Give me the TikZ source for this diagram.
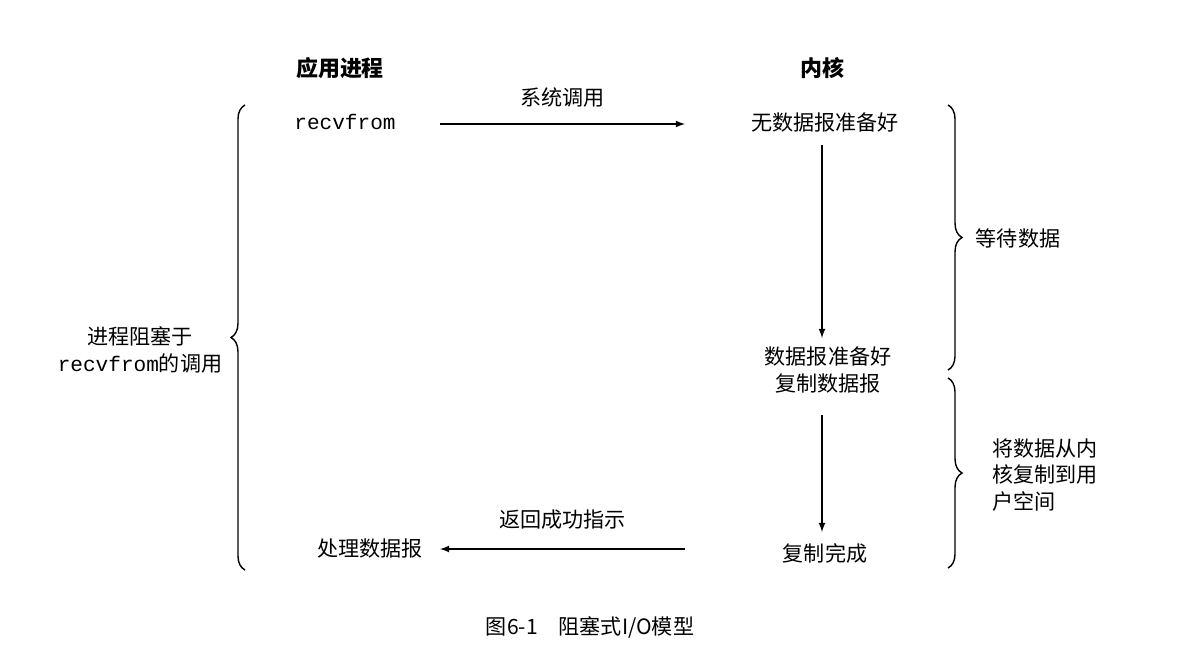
\documentclass[tikz,border=0pt]{standalone}
\usepackage{fontspec}
\setmonofont{Liberation Mono}
\newfontfamily\cjk{Noto Sans CJK SC}
\usetikzlibrary{positioning,decorations.pathreplacing}
\tikzset{
  txt/.style={font=\cjk\fontsize{12}{15}\selectfont,inner sep=1pt,align=center},
  head/.style={txt,font=\cjk\bfseries\fontsize{12.5}{15}\selectfont},
  flow/.style={-latex,thick},
  brc/.style={decorate,decoration={brace,amplitude=8pt},thick}
}
\begin{document}
\begin{tikzpicture}[x=0.02cm,y=-0.02cm]
  \useasboundingbox[fill=white] (0,0) rectangle (1200,669);
  % headings
  \node[head] (app) at (340,68) {应用进程};
  \node[head] (kern) at (822,68) {内核};
  % process side
  \node[txt,font=\ttfamily\fontsize{12}{15}\selectfont] (recv) at (345,122) {recvfrom};
  \node[txt] (done) at (370,549) {处理数据报};
  % kernel side
  \node[txt] (nodata) at (825,122) {无数据报准备好};
  \node[txt] (ready) at (828,370) {数据报准备好\\复制数据报};
  \node[txt] (copied) at (825,553) {复制完成};
  % arrows
  \coordinate (c1) at (440,124);
  \coordinate (c2) at (685,124);
  \draw[flow] (c1) -- node[txt,above=8pt] {系统调用} (c2);
  \draw[flow] (822,145) -- (822,338);
  \draw[flow] (822,415) -- (822,532);
  \coordinate (c3) at (685,549);
  \coordinate (c4) at (440,549);
  \draw[flow] (c3) -- node[txt,above=10pt] {返回成功指示} (c4);
  % braces
  \draw[brc] (245,570) -- (245,105);
  \node[txt] (block) at (140,350) {进程阻塞于\\{\ttfamily recvfrom}的调用};
  \draw[brc] (948,105) -- (948,370);
  \node[txt] (wait) at (1018,238) {等待数据};
  \draw[brc] (948,378) -- (948,568);
  \node[txt,align=left] (copy) at (1045,475) {将数据从内\\核复制到用\\户空间};
  % caption
  \node[txt] (cap) at (590,627) {图6-1\quad 阻塞式I/O模型};
\end{tikzpicture}
\end{document}
